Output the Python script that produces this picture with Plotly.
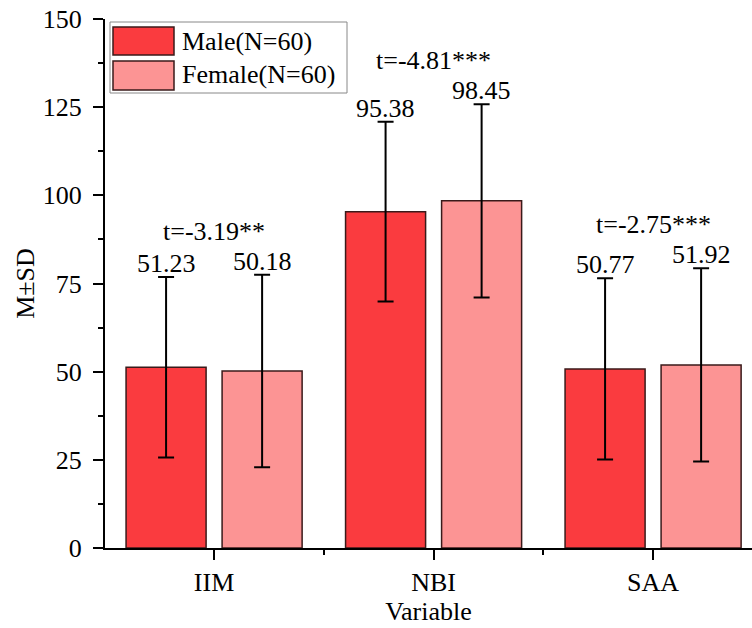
import plotly.graph_objects as go

categories = ["IIM", "NBI", "SAA"]
male_mean = [51.23, 95.38, 50.77]
male_sd = [25.6, 25.5, 25.7]
female_mean = [50.18, 98.45, 51.92]
female_sd = [27.3, 27.4, 27.4]
t_labels = ["t=-3.19**", "t=-4.81***", "t=-2.75***"]
y_ticks = [0, 25, 50, 75, 100, 125, 150]

MALE_COLOR = "#FA3B3F"
FEMALE_COLOR = "#FC9494"
FONT = "Liberation Serif, Times New Roman, serif"
FS = 26

BARGAP = 0.125
BARGROUPGAP = 1 / 6
slot = (1 - BARGAP) / 2
offset = slot / 2

xpos = list(range(len(categories)))

fig = go.Figure()
fig.add_trace(go.Bar(
    x=xpos, y=male_mean, name="Male(N=60)",
    marker=dict(color=MALE_COLOR, line=dict(color="#3a1a1a", width=1.5)),
    error_y=dict(type="data", array=male_sd, visible=True, color="black", thickness=2, width=8),
    showlegend=False,
))
fig.add_trace(go.Bar(
    x=xpos, y=female_mean, name="Female(N=60)",
    marker=dict(color=FEMALE_COLOR, line=dict(color="#3a1a1a", width=1.5)),
    error_y=dict(type="data", array=female_sd, visible=True, color="black", thickness=2, width=8),
    showlegend=False,
))

annotations = []
for i in xpos:
    mt = male_mean[i] + male_sd[i]
    ft = female_mean[i] + female_sd[i]
    annotations.append(dict(x=i - offset, y=mt, text=f"{male_mean[i]:.2f}", showarrow=False,
                            xref="x", yref="y", yanchor="bottom", yshift=-2, borderpad=0,
                            font=dict(family=FONT, size=FS, color="black")))
    annotations.append(dict(x=i + offset, y=ft, text=f"{female_mean[i]:.2f}", showarrow=False,
                            xref="x", yref="y", yanchor="bottom", yshift=-2, borderpad=0,
                            font=dict(family=FONT, size=FS, color="black")))
    annotations.append(dict(x=i, y=max(mt, ft), text=t_labels[i], showarrow=False,
                            xref="x", yref="y", yanchor="bottom", yshift=28, borderpad=0,
                            font=dict(family=FONT, size=FS, color="black")))

# page body margin is removed below; plot area at x 105.., y 19..548
L, T, H = 105, 19, 529
FIG_W, FIG_H = 752, 628
W = FIG_W - L
SCALE = 219.5  # px per category
x_lo = -0.497
x_hi = x_lo + W / SCALE

def px(x):
    return (x - L) / W
def py(y):
    return (T + H - y) / H

shapes = [
    dict(type="rect", xref="paper", yref="paper", x0=px(110), x1=px(347), y0=py(93), y1=py(22),
         line=dict(color="#888888", width=1), fillcolor="white", layer="above"),
    dict(type="rect", xref="paper", yref="paper", x0=px(113), x1=px(174), y0=py(55), y1=py(27),
         line=dict(color="#3a1a1a", width=1.5), fillcolor=MALE_COLOR, layer="above"),
    dict(type="rect", xref="paper", yref="paper", x0=px(113), x1=px(174), y0=py(90), y1=py(61),
         line=dict(color="#3a1a1a", width=1.5), fillcolor=FEMALE_COLOR, layer="above"),
]
annotations.append(dict(x=px(181), y=py(42), xref="paper", yref="paper", text="Male(N=60)",
                        showarrow=False, xanchor="left", yanchor="middle", borderpad=0,
                        font=dict(family=FONT, size=FS, color="black")))
annotations.append(dict(x=px(181), y=py(74), xref="paper", yref="paper", text="Female(N=60)",
                        showarrow=False, xanchor="left", yanchor="middle", borderpad=0,
                        font=dict(family=FONT, size=FS, color="black")))

fig.update_layout(
    width=FIG_W, height=FIG_H,
    margin=dict(l=L, r=0, t=T, b=FIG_H - T - H, pad=0),
    paper_bgcolor="white", plot_bgcolor="white",
    barmode="group", bargap=BARGAP, bargroupgap=BARGROUPGAP,
    font=dict(family=FONT, size=FS, color="black"),
    annotations=annotations, shapes=shapes,
    xaxis=dict(
        range=[x_lo, x_hi], tickmode="array", tickvals=xpos, ticktext=categories,
        automargin=False,
        showline=True, linecolor="black", linewidth=2, showgrid=False, zeroline=False,
        ticks="outside", ticklen=10, tickwidth=2, tickcolor="black",
        minor=dict(dtick=0.5, tick0=-0.5, ticks="outside", ticklen=5, tickwidth=2, tickcolor="black", showgrid=False),
        title=dict(text="Variable", standoff=0, font=dict(family=FONT, size=FS)),
        tickfont=dict(family=FONT, size=FS),
    ),
    yaxis=dict(
        range=[0, 150], tickmode="array", tickvals=y_ticks,
        automargin=False, ticklabelstandoff=6, ticklabeloverflow="allow",
        showline=True, linecolor="black", linewidth=2, showgrid=False, zeroline=False,
        ticks="outside", ticklen=10, tickwidth=2, tickcolor="black",
        minor=dict(dtick=12.5, tick0=0, ticks="outside", ticklen=5, tickwidth=2, tickcolor="black", showgrid=False),
        title=dict(text="M±SD", standoff=1, font=dict(family=FONT, size=FS)),
        tickfont=dict(family=FONT, size=FS),
    ),
)

fig.write_html("out.html", config={"displayModeBar": False},
               post_script="document.body.style.margin='0';")
